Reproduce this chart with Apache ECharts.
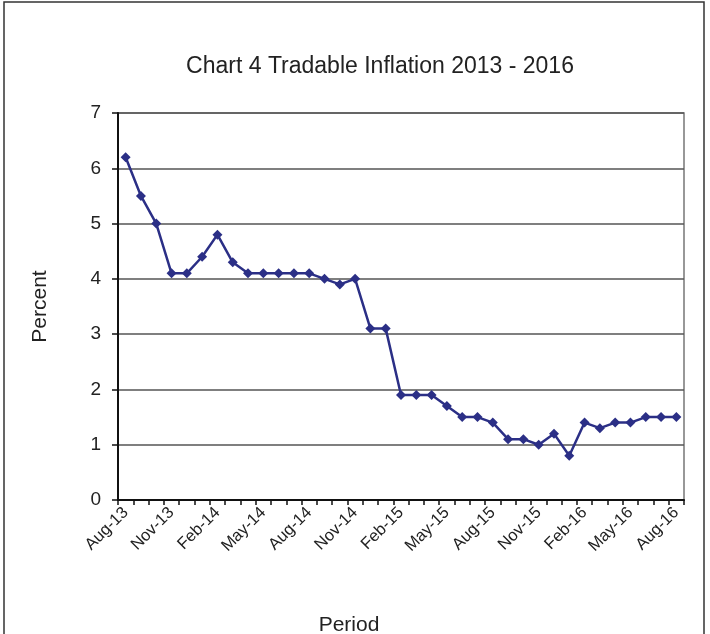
<!DOCTYPE html>
<html>
<head>
<meta charset="utf-8">
<script src="https://cdn.jsdelivr.net/npm/echarts@6/dist/echarts.min.js"></script>
<style>
html,body{margin:0;padding:0;background:#fff;}
#main{width:710px;height:634px;}
</style>
</head>
<body>
<div id="main"></div>
<script>
const categories = ['Aug-13','Sep-13','Oct-13','Nov-13','Dec-13','Jan-14','Feb-14','Mar-14','Apr-14','May-14','Jun-14','Jul-14','Aug-14','Sep-14','Oct-14','Nov-14','Dec-14','Jan-15','Feb-15','Mar-15','Apr-15','May-15','Jun-15','Jul-15','Aug-15','Sep-15','Oct-15','Nov-15','Dec-15','Jan-16','Feb-16','Mar-16','Apr-16','May-16','Jun-16','Jul-16','Aug-16'];
const tradableInflation = [6.2,5.5,5.0,4.1,4.1,4.4,4.8,4.3,4.1,4.1,4.1,4.1,4.1,4.0,3.9,4.0,3.1,3.1,1.9,1.9,1.9,1.7,1.5,1.5,1.4,1.1,1.1,1.0,1.2,0.8,1.4,1.3,1.4,1.4,1.5,1.5,1.5];
const yTicks = [0,1,2,3,4,5,6,7];

const chart = echarts.init(document.getElementById('main'));
chart.setOption({
  backgroundColor: '#fff',
  animation: false,
  title: {
    text: 'Chart 4 Tradable Inflation 2013 - 2016',
    left: 375, top: 50, textAlign: 'center',
    textStyle: {fontFamily: 'Liberation Sans, Arial', fontSize: 23, fontWeight: 'normal', color: '#222'}
  },
  graphic: [{
    type: 'rect', shape: {x: 4, y: 2, width: 700, height: 660},
    style: {fill: 'none', stroke: '#333', lineWidth: 1.5}, silent: true
  }, {
    type: 'text', x: 349, y: 625,
    style: {text: 'Period', fontFamily: 'Liberation Sans, Arial', fontSize: 21, fill: '#222', textAlign: 'center', textVerticalAlign: 'middle'},
    silent: true
  }],
  grid: {left: 118, top: 113, right: 26, bottom: 134, show: true, borderColor: '#777', borderWidth: 1.5},
  xAxis: {
    type: 'category', data: categories, boundaryGap: true,
    axisLine: {lineStyle: {color: '#111', width: 2}},
    axisTick: {show: true, interval: 0, length: 5, lineStyle: {color: '#111', width: 1.5}},
    axisLabel: {interval: 2, rotate: 45, margin: 10, fontFamily: 'Liberation Sans, Arial', fontSize: 16.5, color: '#222'},
    splitLine: {show: false}
  },
  yAxis: {
    type: 'value', min: yTicks[0], max: yTicks[yTicks.length-1], interval: 1,
    name: 'Percent', nameLocation: 'middle', nameGap: 67, nameRotate: 90,
    nameTextStyle: {fontFamily: 'Liberation Sans, Arial', fontSize: 21, color: '#222'},
    axisLine: {show: true, lineStyle: {color: '#111', width: 2}},
    axisTick: {show: true, length: 6, lineStyle: {color: '#111', width: 1.5}},
    axisLabel: {margin: 17, fontFamily: 'Liberation Sans, Arial', fontSize: 19, color: '#222'},
    splitLine: {show: true, lineStyle: {color: '#555', width: 1.5}}
  },
  series: [{
    type: 'line', data: tradableInflation,
    symbol: 'diamond', symbolSize: 10,
    lineStyle: {color: '#2b2f86', width: 2.5},
    itemStyle: {color: '#2b2f86'}
  }]
});
</script>
</body>
</html>
